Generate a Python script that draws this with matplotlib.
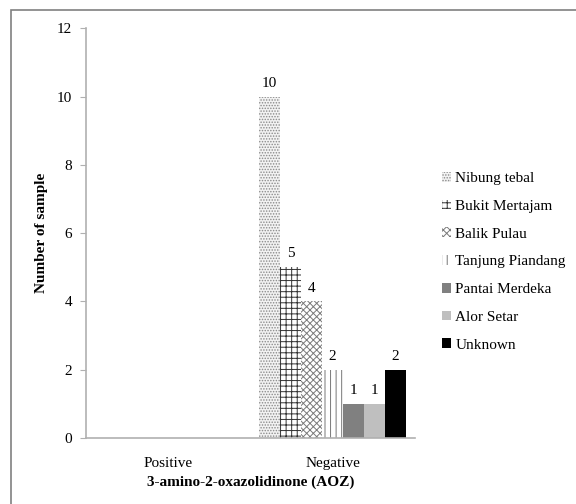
import matplotlib.pyplot as plt
import matplotlib.patches as mpatches
import numpy as np

plt.rcParams['font.family'] = ['Liberation Serif', 'DejaVu Serif']
plt.rcParams['hatch.linewidth'] = 0.7

categories = ['Positive', 'Negative']
locations = ['Nibung tebal', 'Bukit Mertajam', 'Balik Pulau', 'Tanjung Piandang',
             'Pantai Merdeka', 'Alor Setar', 'Unknown']
counts = {
    'Nibung tebal': [0, 10],
    'Bukit Mertajam': [0, 5],
    'Balik Pulau': [0, 4],
    'Tanjung Piandang': [0, 2],
    'Pantai Merdeka': [0, 1],
    'Alor Setar': [0, 1],
    'Unknown': [0, 2],
}

# style per location: facecolor, hatch, hatch colour
styles = [
    ('#f2f2f2', '......', '#8a8a8a'),
    ('white', '+++', '#333333'),
    ('white', 'xxxxx', '#7a7a7a'),
    ('white', '|||', '#777777'),
    ('#808080', None, None),
    ('#bfbfbf', None, None),
    ('black', None, None),
]

fig = plt.figure(figsize=(5.76, 5.04), dpi=100)
ax = fig.add_axes([0.149, 0.131, 0.571, 0.813])

# outer frame
fig.patches.append(mpatches.Rectangle((0.019, -0.05), 1.0, 1.03, transform=fig.transFigure,
                                      fill=False, edgecolor='#808080', linewidth=1.2))

x = np.arange(len(categories))
w = 0.128
n = len(locations)
for i, loc in enumerate(locations):
    fc, hatch, hc = styles[i]
    pos = x + (i - (n - 1) / 2) * w
    ax.bar(pos, counts[loc], w, color=fc, hatch=hatch,
           edgecolor=hc if hc else fc, linewidth=0, label=loc)
    for j, v in enumerate(counts[loc]):
        if v > 0:
            ax.text(pos[j], v + 0.2, str(v), ha='center', va='bottom',
                    fontsize=11)

ax.set_xlim(-0.5, 1.5)
ax.set_ylim(0, 12)
ax.set_yticks(range(0, 13, 2))
ax.set_xticks(x)
ax.set_xticklabels(categories, fontsize=11)
ax.tick_params(axis='x', length=0, pad=14)
ax.tick_params(axis='y', labelsize=11, length=4, color='#b0b0b0', pad=6)
for s in ['top', 'right']:
    ax.spines[s].set_visible(False)
for s in ['left', 'bottom']:
    ax.spines[s].set_color('#b0b0b0')
    ax.spines[s].set_linewidth(1.2)

ax.set_ylabel('Number of sample', fontsize=11, fontweight='bold', labelpad=6)
ax.set_xlabel('3-amino-2-oxazolidinone (AOZ)', fontsize=11, fontweight='bold', labelpad=4)

ax.legend(loc='center left', bbox_to_anchor=(1.04, 0.43), frameon=False,
          fontsize=11, handlelength=0.6, handleheight=0.6, handletextpad=0.3,
          labelspacing=0.95)

fig.savefig('out.png', dpi=100)
